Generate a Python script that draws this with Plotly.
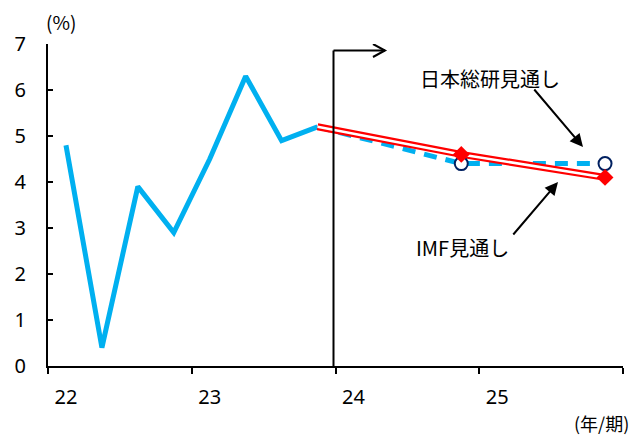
import plotly.graph_objects as go

# ---- data ----
years = ["22", "23", "24", "25"]
quarters = [f"{y}Q{q}" for y in years for q in range(1, 5)]
actual_q = ["22Q1", "22Q2", "22Q3", "22Q4", "23Q1", "23Q2", "23Q3", "23Q4"]
actual = [4.8, 0.4, 3.9, 2.9, 4.5, 6.3, 4.9, 5.2]
fc_q = ["23Q4", "24Q4", "25Q4"]
jri = [5.2, 4.4, 4.4]
imf = [5.2, 4.6, 4.1]

def qx(q):
    return quarters.index(q) + 0.5

ax = [qx(q) for q in actual_q]
fx = [qx(q) for q in fc_q]

JP = "Noto Sans CJK JP"
NUM = "Noto Sans"
BLUE = "#00B0F0"

fig = go.Figure()
fig.add_trace(go.Scatter(x=fx, y=jri, mode="lines",
                         line=dict(color=BLUE, width=5, dash="13px,9px"),
                         hoverinfo="skip", showlegend=False))
fig.add_trace(go.Scatter(x=ax, y=actual, mode="lines",
                         line=dict(color=BLUE, width=5),
                         showlegend=False))
fig.add_trace(go.Scatter(x=fx, y=imf, mode="lines",
                         line=dict(color="#FF0000", width=7),
                         hoverinfo="skip", showlegend=False))
fig.add_trace(go.Scatter(x=fx, y=imf, mode="lines",
                         line=dict(color="white", width=2.5),
                         hoverinfo="skip", showlegend=False))
fig.add_trace(go.Scatter(x=fx[1:], y=jri[1:], mode="markers",
                         marker=dict(symbol="circle", size=13, color="white",
                                     line=dict(color="#002060", width=2)),
                         showlegend=False))
fig.add_trace(go.Scatter(x=fx[1:], y=imf[1:], mode="markers",
                         marker=dict(symbol="diamond", size=13, color="#FF0000",
                                     line=dict(width=0)),
                         showlegend=False))
# invisible trace for the label axis
fig.add_trace(go.Scatter(x=[0.5], y=[0], xaxis="x2", mode="markers",
                         marker=dict(opacity=0), hoverinfo="skip", showlegend=False))

# px -> data helpers for decorations
def dx(px):
    return (px - 48) / (575 / 16)
def dy(py):
    return (366 - py) / (322 / 7)

shapes = [
    dict(type="line", xref="x", yref="y", x0=dx(333.5), x1=dx(333.5), y0=0, y1=dy(50.5),
         line=dict(color="black", width=2)),
    dict(type="line", xref="x", yref="y", x0=dx(333.5), x1=dx(385), y0=dy(50.5), y1=dy(50.5),
         line=dict(color="black", width=2)),
    dict(type="path", xref="x", yref="y",
         path=f"M {dx(373)},{dy(44)} L {dx(385)},{dy(50.5)} L {dx(373)},{dy(57)}",
         line=dict(color="black", width=2)),
]

annotations = [
    dict(text="(%)", xref="paper", yref="paper", x=(61 - 48) / 575, y=1.0, yshift=23,
         xanchor="center", yanchor="middle", showarrow=False,
         font=dict(family=JP, size=19, color="black")),
    dict(text="(年/期)", xref="paper", yref="paper", x=(631 - 48) / 575, y=0, yshift=-57,
         xanchor="right", yanchor="middle", showarrow=False,
         font=dict(family=JP, size=18, color="black")),
    dict(text="日本総研見通し", xref="x", yref="y", x=dx(490), y=dy(78),
         showarrow=False, font=dict(family=JP, size=20, color="black")),
    dict(text="IMF見通し", xref="x", yref="y", x=dx(462), y=dy(247),
         showarrow=False, font=dict(family=JP, size=20, color="black")),
    dict(text="", xref="x", yref="y", axref="x", ayref="y",
         x=dx(583), y=dy(147), ax=dx(533), ay=dy(88),
         showarrow=True, arrowhead=2, arrowsize=1.3, arrowwidth=2, arrowcolor="black"),
    dict(text="", xref="x", yref="y", axref="x", ayref="y",
         x=dx(558), y=dy(182), ax=dx(512), ay=dy(236),
         showarrow=True, arrowhead=2, arrowsize=1.3, arrowwidth=2, arrowcolor="black"),
]

fig.update_layout(
    width=639, height=436,
    margin=dict(l=48, r=16, t=44, b=70),
    paper_bgcolor="white", plot_bgcolor="white",
    font=dict(family=NUM, size=20, color="black"),
    xaxis=dict(range=[0, 16], tickvals=[0, 4, 8, 12, 16], ticktext=[""] * 5,
               ticks="outside", ticklen=6, tickwidth=2, tickcolor="black",
               showline=True, linecolor="black", linewidth=2,
               showgrid=False, zeroline=False, fixedrange=True),
    xaxis2=dict(range=[0, 16], overlaying="x", side="bottom",
                tickvals=[0.5, 4.5, 8.5, 12.5], ticktext=years,
                ticks="", showline=False, showgrid=False, zeroline=False,
                ticklabelstandoff=17, tickfont=dict(family=NUM, size=20)),
    yaxis=dict(range=[0, 7], dtick=1, ticks="inside", ticklen=5, tickwidth=2,
               tickcolor="black", showline=True, linecolor="black", linewidth=2,
               showgrid=False, zeroline=False, ticklabelstandoff=16,
               tickfont=dict(family=NUM, size=20)),
    shapes=shapes, annotations=annotations,
)

fig.write_html("out.html")
